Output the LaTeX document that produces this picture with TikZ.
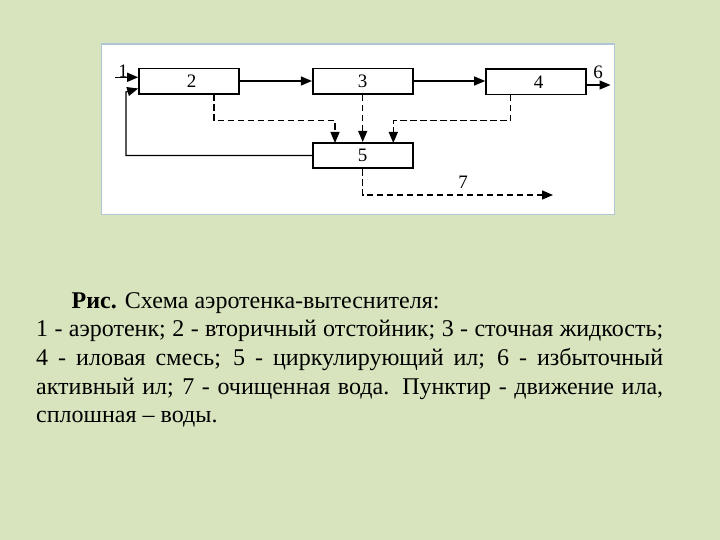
\documentclass[tikz,border=0pt]{standalone}
\usepackage{fontspec}
\setmainfont{Liberation Serif}
\newfontfamily\capfont{Liberation Serif}
\usetikzlibrary{arrows.meta}
\definecolor{bg}{RGB}{216,228,190}
\definecolor{panelborder}{RGB}{176,198,212}
\begin{document}
\begin{tikzpicture}[x=1pt,y=-1pt,
  blk/.style={draw,line width=1.6pt,minimum width=100pt,minimum height=25.5pt,inner sep=0pt,font=\capfont\fontsize{19}{19}\selectfont},
  flow/.style={line width=1.3pt,-{Triangle[length=11pt,width=9pt]}},
  sludge/.style={line width=1.3pt,dash pattern=on 6.5pt off 3.5pt,-{Triangle[length=11pt,width=9pt]}},
  lbl/.style={font=\capfont\fontsize{19}{19}\selectfont,inner sep=0pt},
  captxt/.style={anchor=base west,inner sep=0pt,font=\capfont\fontsize{24}{28}\selectfont}]
\fill[bg] (0,0) rectangle (720,540);
\useasboundingbox (0,0) rectangle (720,540);
\draw[panelborder,fill=white,line width=1.6pt] (101.5,44) rectangle (614.5,214.5);
% blocks
\node[blk] (b2) at (189,81.3) {\hspace*{5pt}2};
\node[blk] (b3) at (362.7,81.3) {3};
\node[blk] (b4) at (536,81.8) {\hspace*{5pt}4};
\node[blk] (b5) at (362.7,155.5) {5};
% coordinates
\coordinate (in1) at (115,77.3);
\coordinate (out6) at (610.5,85);
\coordinate (out7) at (553,195);
% solid flows
\draw[flow] (in1) -- (in1 -| b2.west);
\node[lbl] at (123,71) {1};
\draw[flow] (b2.east |- 0,81) -- (b3.west |- 0,81);
\draw[flow] (b3.east |- 0,81) -- (b4.west |- 0,81);
\draw[flow] (b4.east |- out6) -- (out6);
\node[lbl] at (598,72.5) {6};
\draw[flow] (b5.west) -| (126,92) -- (b2.west |- 0,88.5);
% dashed sludge
\draw[sludge] (214,94.3) |- (335,120.7) -- (335 ,143);
\draw[sludge] (b3.south) -- (b5.north);
\draw[sludge] (510.7,94.8) |- (393.3,120.7) -- (393.3,143);
\draw[sludge] (b5.south) |- (out7);
\node[lbl] at (463,182) {7};
% caption
\node[captxt] (c1) at (71.5,308) {\textbf{Рис.} Схема аэротенка-вытеснителя:};
\node[captxt] (c2) at (36,336.5) {\makebox[627pt][s]{1 - аэротенк; 2 - вторичный отстойник; 3 - сточная жидкость;}};
\node[captxt] (c3) at (36,365) {\makebox[627pt][s]{4 - иловая смесь; 5 - циркулирующий ил; 6 - избыточный}};
\node[captxt] (c4) at (36,394) {\makebox[627pt][s]{активный ил; 7 - очищенная вода. Пунктир - движение ила,}};
\node[captxt] (c5) at (36,422) {сплошная – воды.};
\end{tikzpicture}
\end{document}
